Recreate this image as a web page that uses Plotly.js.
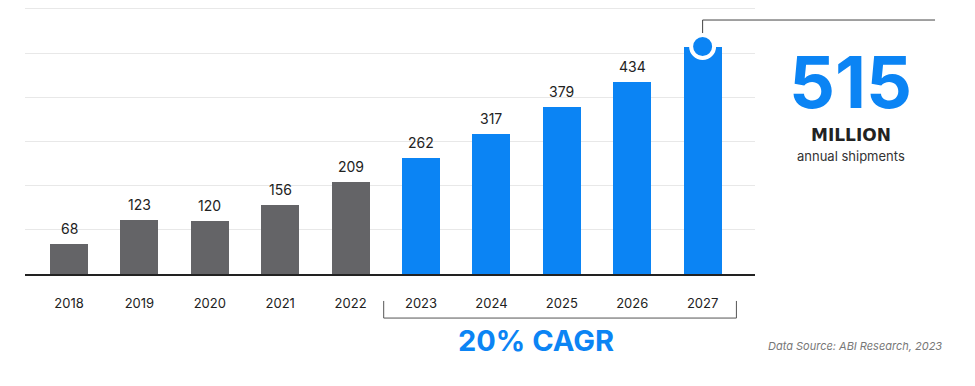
<!DOCTYPE html>
<html>
<head>
<meta charset="utf-8">
<script src="https://cdn.plot.ly/plotly-3.0.1.min.js"></script>
<style>html,body{margin:0;padding:0;background:#fff;}#chart{width:975px;height:386px;}</style>
</head>
<body>
<div id="chart"></div>
<script>
const years = ['2018','2019','2020','2021','2022','2023','2024','2025','2026','2027'];
const shipments = [68, 123, 120, 156, 209, 262, 317, 379, 434, 515];
const forecastYears = ['2023','2024','2025','2026','2027'];
const headlineValue = '515';
const headlineUnit = 'MILLION';
const headlineCaption = 'annual shipments';
const cagrLabel = '20% CAGR';
const sourceNote = 'Data Source: ABI Research, 2023';

const GRAY = '#646467';
const BLUE = '#0b84f4';
const lastIdx = years.length - 1;

const barColors = years.map(y => forecastYears.includes(y) ? BLUE : GRAY);

const bars = {
  type: 'bar', x: years, y: shipments,
  marker: {color: barColors, line: {width: 0}},
  width: 0.54, hoverinfo: 'skip', showlegend: false
};
const dot = {
  type: 'scatter', mode: 'markers',
  x: [years[lastIdx]], y: [shipments[lastIdx]],
  marker: {size: 23, color: BLUE, line: {color: '#ffffff', width: 4}},
  hoverinfo: 'skip', showlegend: false, cliponaxis: false
};

const yMax = 604.5;
const valueLabels = years.slice(0, lastIdx).map((y, i) => ({
  x: i, y: shipments[i], xref: 'x', yref: 'y',
  text: String(shipments[i]), showarrow: false,
  yanchor: 'bottom', yshift: 5,
  font: {family: 'Inter, sans-serif', size: 14, color: '#222'}
}));

const xStart = -0.625, xEnd = 9.744;
const toPaper = v => (v - xStart) / (xEnd - xStart);
const firstF = years.indexOf(forecastYears[0]);
const lastF = years.indexOf(forecastYears[forecastYears.length - 1]);
const bL = toPaper(firstF - 0.53), bR = toPaper(lastF + 0.48);
const connY = 575;

const shapes = [
  {type: 'line', xref: 'x', yref: 'y', x0: lastIdx, x1: lastIdx, y0: shipments[lastIdx], y1: connY,
   line: {color: '#444', width: 1}, layer: 'below'},
  {type: 'line', xref: 'paper', yref: 'paper', x0: toPaper(lastIdx), x1: 1.2466, y0: connY/yMax, y1: connY/yMax,
   line: {color: '#444', width: 1}},
  {type: 'path', xref: 'paper', yref: 'paper',
   path: `M ${bL} -0.101 L ${bL} -0.165 L ${bR} -0.165 L ${bR} -0.101`,
   line: {color: '#555', width: 1}}
];

const extra = [
  {xref: 'paper', yref: 'paper', x: toPaper(6.64), y: -0.25, yanchor: 'middle', xanchor: 'center',
   text: '<b>' + cagrLabel + '</b>', showarrow: false,
   font: {family: 'Inter, sans-serif', size: 29, color: BLUE, weight: 800}},
  {xref: 'paper', yref: 'paper', x: 1.1315, y: 0.72, yanchor: 'middle', xanchor: 'center',
   text: '<b>' + headlineValue + '</b>', showarrow: false,
   font: {family: 'Inter, sans-serif', size: 72, color: BLUE, weight: 900}},
  {xref: 'paper', yref: 'paper', x: 1.1315, y: 0.522, yanchor: 'middle', xanchor: 'center',
   text: '<b>' + headlineUnit + '</b>', showarrow: false,
   font: {family: 'DejaVu Sans, sans-serif', size: 17, color: '#222'}},
  {xref: 'paper', yref: 'paper', x: 1.1315, y: 0.443, yanchor: 'middle', xanchor: 'center',
   text: headlineCaption, showarrow: false,
   font: {family: 'Inter, sans-serif', size: 13, color: '#333'}},
  {xref: 'paper', yref: 'paper', x: 1.2589, y: -0.268, yanchor: 'middle', xanchor: 'right',
   text: '<i>' + sourceNote + '</i>', showarrow: false,
   font: {family: 'Inter, sans-serif', size: 11, color: '#777'}}
];

const layout = {
  width: 975, height: 386,
  margin: {l: 25, r: 220, t: 7, b: 112, pad: 0},
  paper_bgcolor: '#fff', plot_bgcolor: '#fff',
  bargap: 0,
  xaxis: {type: 'category', range: [xStart, xEnd], showgrid: false, zeroline: false,
          showline: true, linecolor: '#222', linewidth: 1.5,
          ticks: '', ticklabelstandoff: 17, fixedrange: true,
          tickfont: {family: 'Inter, sans-serif', size: 13, color: '#222'}},
  yaxis: {range: [0, yMax], dtick: 100, tick0: 0, showticklabels: false, showgrid: true,
          gridcolor: '#e8e8e8', gridwidth: 1, zeroline: false, showline: false, fixedrange: true},
  shapes: shapes,
  annotations: valueLabels.concat(extra)
};

Plotly.newPlot('chart', [bars, dot], layout, {displayModeBar: false, staticPlot: true});
</script>
</body>
</html>
